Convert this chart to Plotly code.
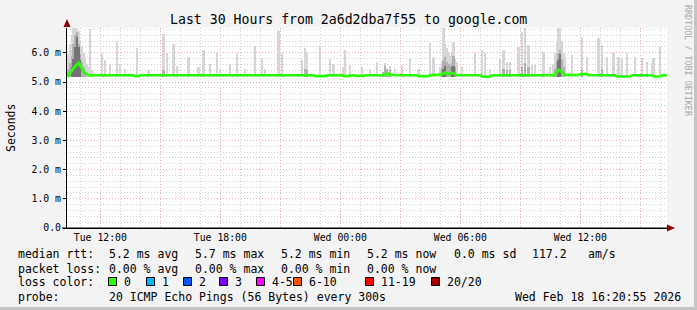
import plotly.graph_objects as go

# ---------------- data ----------------
title_text = "Last 30 Hours from 2a6d2dba7f55 to google.com"
x_start = "2026-02-17 10:20"
x_end = "2026-02-18 16:20"
x_tick_times = ["2026-02-17 12:00", "2026-02-17 15:00", "2026-02-17 18:00", "2026-02-17 21:00",
                "2026-02-18 00:00", "2026-02-18 03:00", "2026-02-18 06:00", "2026-02-18 09:00",
                "2026-02-18 12:00", "2026-02-18 15:00"]
x_tick_text = ["Tue 12:00", "", "Tue 18:00", "", "Wed 00:00", "", "Wed 06:00", "", "Wed 12:00", ""]
y_tick_vals = [0, 1, 2, 3, 4, 5, 6]
y_tick_text = ["0.0", "1.0 m", "2.0 m", "3.0 m", "4.0 m", "5.0 m", "6.0 m"]

ping_floor_ms = 5.16   # lowest ping of the period (bottom of the smoke)

# smoke: highest ping per 5-minute step (light grey)
smoke_light_time = [
    "T10:20", "T10:25", "T10:30", "T10:35", "T10:40", "T10:45", "T10:50", "T10:55", "T11:00", "T11:05",
    "T11:10", "T11:15", "T11:20", "T11:25", "T11:30", "T11:35",
    "T12:05", "T12:15", "T12:30", "T12:50", "T13:00", "T13:15", "T13:50", "T14:25", "T15:10", "T15:20",
    "T15:40", "T15:50", "T16:25", "T16:55", "T17:10", "T17:30", "T17:50", "T18:00", "T18:30", "T18:50",
    "T19:15", "T19:45", "T20:05", "T20:15",
    "T20:55", "T21:05", "T22:05", "T22:15", "T22:20", "T23:00", "T23:30", "T23:40", "W00:10", "W00:15",
    "W00:30", "W01:05", "W01:30", "W01:50", "W02:15", "W02:30", "W02:45", "W03:05", "W03:30", "W03:55",
    "W04:30", "W04:40", "W05:00", "W05:05", "W05:10", "W05:15", "W05:20", "W05:25", "W05:30", "W05:35",
    "W05:40", "W05:45", "W05:50", "W06:05",
    "W06:45", "W07:05", "W07:15", "W07:30", "W08:00", "W08:10", "W08:20", "W08:30", "W08:55", "W09:05",
    "W09:15", "W09:25", "W09:35", "W09:45", "W10:10", "W10:30", "W10:40", "W10:45", "W10:50", "W10:55",
    "W11:00", "W11:05", "W11:10", "W11:15", "W11:35", "W12:05", "W12:20", "W12:55", "W13:05", "W13:20",
    "W13:40", "W13:55", "W14:05", "W14:20", "W14:45", "W15:05", "W15:20", "W15:35", "W15:40", "W16:00",
]
smoke_light_ms = [
    5.60, 5.95, 6.30, 6.60, 6.88, 6.88, 6.88, 6.75, 6.45, 6.20,
    6.00, 5.80, 5.60, 5.50, 6.80, 5.40,
    5.98, 5.75, 5.60, 6.40, 5.60, 5.45, 6.15, 5.40, 6.65, 6.00,
    6.30, 5.55, 5.85, 5.50, 6.10, 5.60, 6.00, 5.45, 5.60, 6.00,
    5.45, 6.25, 5.80, 5.45,
    6.75, 5.99, 5.75, 6.16, 6.03, 6.20, 5.80, 5.60, 5.50, 6.10,
    5.58, 5.51, 5.45, 5.68, 5.65, 5.55, 5.45, 5.58, 5.80, 5.45,
    6.34, 5.86, 5.50, 5.70, 6.85, 6.30, 6.16, 6.00, 5.90, 6.00,
    6.37, 5.80, 5.70, 5.50,
    5.99, 6.10, 6.00, 5.45, 5.82, 6.10, 5.68, 5.68, 6.20, 6.71,
    6.88, 6.27, 5.58, 5.58, 6.03, 5.50, 5.60, 6.00, 6.40, 6.85,
    6.85, 6.40, 6.00, 5.86, 5.92, 6.54, 5.86, 6.51, 6.27, 5.86,
    6.03, 5.86, 5.82, 5.99, 5.86, 5.82, 5.68, 5.65, 5.82, 6.20,
]

# smoke: middle pings (medium grey)
smoke_mid_time = [
    "T10:25", "T10:30", "T10:35", "T10:40", "T10:45", "T10:50", "T10:55", "T11:00", "T11:05",
    "T11:10", "T11:15", "T15:10", "T22:15", "T22:20",
    "W02:10", "W02:15", "W02:20", "W02:25", "W02:30",
    "W05:05", "W05:10", "W05:15", "W05:20", "W05:25", "W05:30", "W05:35", "W05:40", "W05:45",
    "W08:10", "W08:20", "W08:30", "W09:05", "W09:15", "W09:25",
    "W10:45", "W10:50", "W10:55", "W11:00", "W11:05", "W11:10", "W12:05", "W13:05",
]
smoke_mid_ms = [
    5.45, 5.65, 5.90, 6.30, 6.60, 6.70, 6.30, 5.95, 5.70,
    5.50, 5.35, 5.40, 5.45, 5.40,
    5.35, 5.55, 5.45, 5.35, 5.40,
    5.45, 5.75, 5.85, 5.70, 5.60, 5.55, 5.65, 5.90, 5.50,
    5.45, 5.40, 5.40, 5.50, 5.65, 5.50,
    5.45, 5.70, 6.00, 6.10, 5.80, 5.50, 5.40, 5.45,
]

# smoke: pings nearest the median (dark grey)
smoke_dark_time = [
    "T10:35", "T10:40", "T10:45", "T10:50", "T10:55", "T11:00",
    "W05:10", "W05:15", "W05:35", "W05:40",
    "W10:55", "W11:00",
]
smoke_dark_ms = [
    5.50, 5.80, 6.20, 6.55, 6.20, 5.75,
    5.45, 5.55, 5.50, 5.55,
    5.75, 5.95,
]

# median rtt line
median_time = [
    "T10:20", "T10:25", "T10:30", "T10:35", "T10:40", "T10:45", "T10:50", "T10:55", "T11:00", "T11:05",
    "T11:10", "T11:15", "T11:20", "T11:25", "T13:40", "T13:45", "T13:55", "T14:00", "T22:40", "T22:45",
    "T23:15", "T23:20", "W00:05", "W00:10", "W00:25", "W00:30", "W00:40", "W00:45", "W01:10", "W01:15",
    "W02:10", "W02:15", "W02:20", "W02:25", "W02:30", "W02:35", "W03:50", "W03:55", "W04:25", "W04:30",
    "W05:05", "W05:10", "W05:15", "W05:20", "W05:25", "W05:30", "W05:35", "W05:40", "W05:45", "W07:00",
    "W07:05", "W07:30", "W07:35", "W10:40", "W10:45", "W10:50", "W10:55", "W11:00", "W11:05", "W11:10",
    "W11:15", "W11:55", "W12:00", "W12:20", "W12:25", "W13:45", "W13:50", "W14:30", "W14:35", "W15:35",
    "W15:40", "W16:00", "W16:05", "W16:20",
]
median_ms = [
    5.30, 5.22, 5.32, 5.38, 5.48, 5.55, 5.62, 5.66, 5.55, 5.44,
    5.36, 5.30, 5.26, 5.23, 5.23, 5.20, 5.20, 5.23, 5.23, 5.20,
    5.20, 5.23, 5.23, 5.20, 5.20, 5.23, 5.23, 5.21, 5.21, 5.23,
    5.23, 5.27, 5.29, 5.26, 5.28, 5.24, 5.23, 5.20, 5.20, 5.23,
    5.26, 5.31, 5.32, 5.28, 5.27, 5.30, 5.32, 5.29, 5.24, 5.23,
    5.18, 5.18, 5.23, 5.23, 5.28, 5.34, 5.42, 5.40, 5.32, 5.27,
    5.24, 5.24, 5.27, 5.27, 5.24, 5.23, 5.19, 5.19, 5.23, 5.23,
    5.19, 5.19, 5.23, 5.23,
]

loss_labels = ["0", "1", "2", "3", "4-5", "6-10", "11-19", "20/20"]
loss_colors = ["#26ff00", "#00b8ff", "#0059ff", "#7e00ff", "#ff00ff", "#ff5500", "#ff0000", "#a10000"]

stats_rtt = ["5.2 ms avg", "5.7 ms max", "5.2 ms min", "5.2 ms now", "0.0 ms sd", "117.2", "am/s"]
stats_loss = ["0.00 % avg", "0.00 % max", "0.00 % min", "0.00 % now"]
probe_text = "20 ICMP Echo Pings (56 Bytes) every 300s"
stamp_text = "Wed Feb 18 16:20:55 2026"


def ts(code):
    day = "2026-02-17" if code[0] == "T" else "2026-02-18"
    return day + " " + code[1:]


# ---------------- layout helpers ----------------
W, H = 697, 310
L, R, T, B = 67, 30, 28, 82
PW, PH = W - L - R, H - T - B
MONO = "DejaVu Sans Mono"


def px(x):
    return (x - L) / PW


def py(y):
    return (H - B - y) / PH


STEP_MS = 300000

fig = go.Figure()
for times, vals, col in [(smoke_light_time, smoke_light_ms, "#d6d6d6"),
                         (smoke_mid_time, smoke_mid_ms, "#b0b0b0"),
                         (smoke_dark_time, smoke_dark_ms, "#747474")]:
    fig.add_trace(go.Bar(
        x=[ts(t) for t in times],
        y=[v - ping_floor_ms for v in vals],
        base=ping_floor_ms,
        width=STEP_MS,
        marker=dict(color=col, line=dict(width=0)),
        showlegend=False, hoverinfo="skip",
    ))

fig.add_trace(go.Scatter(
    x=[ts(t) for t in median_time], y=median_ms, mode="lines",
    line=dict(color=loss_colors[0], width=2.6), showlegend=False, hoverinfo="skip",
))

major_grid = "#eab0b0"
minor_grid = "#d2d2d2"
DASH = "1px,2px"

fig.update_layout(
    width=W, height=H, autosize=False,
    margin=dict(l=L, r=R, t=T, b=B, pad=0),
    paper_bgcolor="#f3f3f3", plot_bgcolor="#ffffff",
    barmode="overlay", bargap=0,
    font=dict(family=MONO, color="#000000"),
    xaxis=dict(
        type="date", range=[x_start, x_end],
        tickvals=x_tick_times, ticktext=x_tick_text,
        tickfont=dict(family=MONO, size=9.8, color="#000000"),
        showgrid=True, gridcolor=major_grid, griddash=DASH, gridwidth=1,
        minor=dict(dtick=3600000, tick0="2026-02-17 10:00", showgrid=True,
                   gridcolor=minor_grid, griddash=DASH, gridwidth=1),
        showline=True, linecolor="#000000", linewidth=1,
        ticks="", zeroline=False, fixedrange=True, layer="above traces",
    ),
    yaxis=dict(
        range=[0, PH / 29.2],
        tickvals=y_tick_vals, ticktext=y_tick_text,
        tickfont=dict(family=MONO, size=9.8, color="#000000"),
        showgrid=True, gridcolor=major_grid, griddash=DASH, gridwidth=1,
        minor=dict(dtick=0.2, tick0=0, showgrid=True,
                   gridcolor=minor_grid, griddash=DASH, gridwidth=1),
        showline=True, linecolor="#000000", linewidth=1,
        ticks="outside", ticklen=3, tickcolor="#000000",
        zeroline=False, fixedrange=True, layer="above traces",
    ),
)

shapes = []
arrow_col = "#8b0000"
# axis arrows
shapes.append(dict(type="path", xref="paper", yref="paper",
                   path=f"M {px(63.5)} {py(27)} L {px(70.5)} {py(27)} L {px(67)} {py(19)} Z",
                   fillcolor=arrow_col, line=dict(width=0)))
shapes.append(dict(type="path", xref="paper", yref="paper",
                   path=f"M {px(667)} {py(224.5)} L {px(667)} {py(231.5)} L {px(675)} {py(228)} Z",
                   fillcolor=arrow_col, line=dict(width=0)))
shapes.append(dict(type="line", xref="paper", yref="paper",
                   x0=px(62), x1=px(668), y0=py(228), y1=py(228),
                   line=dict(color="#000000", width=1)))
# loss colour boxes
box_left = [108, 146, 183, 219, 256, 293, 365, 431]
for bx, col in zip(box_left, loss_colors):
    shapes.append(dict(type="rect", xref="paper", yref="paper",
                       x0=px(bx + 0.5), x1=px(bx + 8.5), y0=py(285.5), y1=py(277.5),
                       fillcolor=col, line=dict(color="#000000", width=1)))
# image frame
shapes.append(dict(type="line", xref="paper", yref="paper",
                   x0=px(0), x1=px(697), y0=py(308.5), y1=py(308.5),
                   line=dict(color="#c4c4c4", width=3)))
shapes.append(dict(type="line", xref="paper", yref="paper",
                   x0=px(695.5), x1=px(695.5), y0=py(0), y1=py(310),
                   line=dict(color="#c4c4c4", width=3)))
fig.update_layout(shapes=shapes)

ann = []


def text(x, y, s, size=11.5, anchor="left", color="#000000", angle=0):
    ann.append(dict(x=px(x), y=py(y), xref="paper", yref="paper", text=s,
                    showarrow=False, xanchor=anchor, yanchor="middle",
                    textangle=angle, font=dict(family=MONO, size=size, color=color)))


text(348, 19, title_text, size=13.2, anchor="center")
text(11, 128, "Seconds", size=11.5, anchor="center", angle=-90)
text(688, 61, "RRDTOOL / TOBI OETIKER", size=8.4, anchor="center", color="#a8a8a8", angle=90)

rtt_x = [107, 193, 279, 365, 452, 530, 586]
text(16, 254, "median rtt:")
for xx, s in zip(rtt_x, stats_rtt):
    text(xx, 254, s)
text(16, 268.5, "packet loss:")
for xx, s in zip(rtt_x, stats_loss):
    text(xx, 268.5, s)
text(16, 282, "loss color:")
for bx, lab in zip(box_left, loss_labels):
    text(bx + 14, 282, lab)
text(16, 296.5, "probe:")
text(107, 296.5, probe_text)
text(513, 296.5, stamp_text)

fig.update_layout(annotations=ann)
fig.write_html("out.html")
